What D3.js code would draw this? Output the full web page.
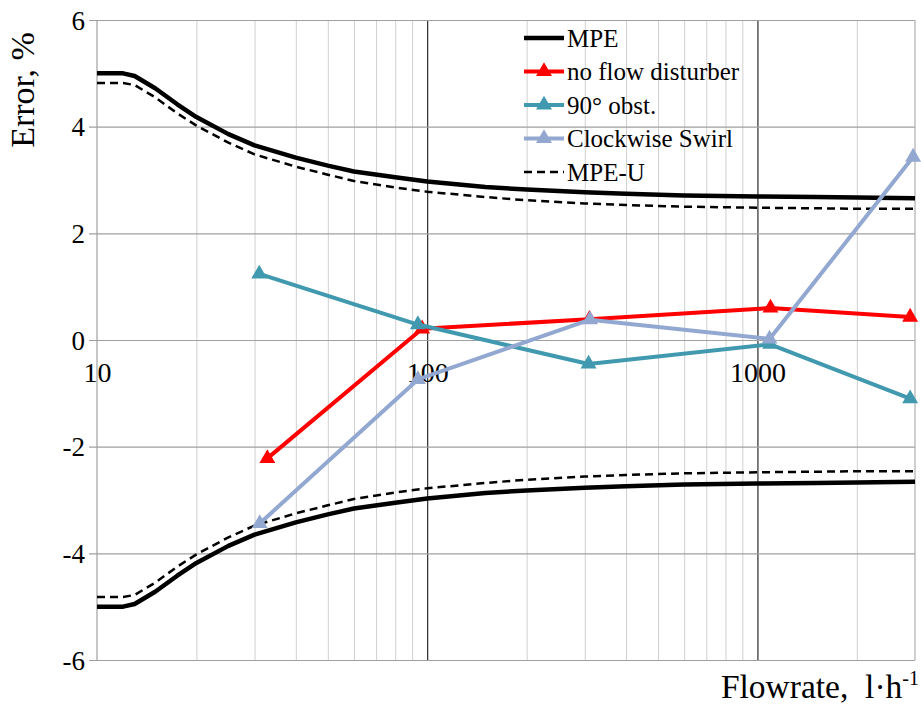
<!DOCTYPE html>
<html>
<head>
<meta charset="utf-8">
<script src="https://cdn.jsdelivr.net/npm/d3@7"></script>
<style>
  body { margin: 0; background: #fff; }
  svg text { font-family: "Liberation Serif", "Times New Roman", serif !important; fill: #000; }
</style>
</head>
<body>
<div id="chart"></div>
<script>
// MPE envelope
const mpeFlow   = [10, 12, 13, 15, 17.5, 20, 25, 30, 40, 50, 60, 80, 100, 150, 200, 300, 400, 600, 1000, 1500, 2000, 3000];
const mpeUpper  = [5.0, 5.0, 4.95, 4.72, 4.42, 4.18, 3.86, 3.65, 3.42, 3.27, 3.16, 3.05, 2.97, 2.87, 2.82, 2.77, 2.74, 2.71, 2.69, 2.68, 2.67, 2.66];
const mpeLower  = [-5.0, -5.0, -4.95, -4.72, -4.42, -4.18, -3.86, -3.65, -3.42, -3.27, -3.16, -3.05, -2.97, -2.87, -2.82, -2.77, -2.74, -2.71, -2.69, -2.68, -2.67, -2.66];
const mpeUUpper = [4.82, 4.82, 4.78, 4.55, 4.25, 4.02, 3.70, 3.48, 3.25, 3.10, 2.98, 2.86, 2.78, 2.68, 2.62, 2.56, 2.53, 2.50, 2.48, 2.47, 2.46, 2.46];
const mpeULower = [-4.82, -4.82, -4.78, -4.55, -4.25, -4.02, -3.70, -3.48, -3.25, -3.10, -2.98, -2.86, -2.78, -2.68, -2.62, -2.56, -2.53, -2.50, -2.48, -2.47, -2.46, -2.46];

// measured series
const noFlowFlow = [32.8, 96.5, 310, 1095, 2900];
const noFlowErr  = [-2.22, 0.21, 0.39, 0.60, 0.43];
const obstFlow   = [31, 93.7, 308, 1093, 2900];
const obstErr    = [1.24, 0.29, -0.45, -0.08, -1.1];
const swirlFlow  = [31.1, 93.7, 311, 1088, 2960];
const swirlErr   = [-3.44, -0.74, 0.38, 0.02, 3.43];

const xTicks = [10, 100, 1000];
const yTicks = [-6, -4, -2, 0, 2, 4, 6];
const legendNames = ["MPE", "no flow disturber", "90° obst.", "Clockwise Swirl", "MPE-U"];

const FONT = "'Liberation Serif', 'Times New Roman', serif";
const W = 921, H = 705,
    margin = ({ top: 20, right: 6, bottom: 45, left: 97 });

const svg = d3.select("#chart")
  .append("svg")
  .attr("width", W)
  .attr("height", H)
  .attr("font-family", FONT);

let x = d3.scaleLog()
  .domain([10, 3000])
  .range([margin.left, W - margin.right]);

let y = d3.scaleLinear()
  .domain([-6, 6])
  .range([H - margin.bottom, margin.top]);

// minor vertical grid
let minor = [];
for (let d of [10, 100, 1000]) {
  for (let k = 2; k <= 9; k++) if (k * d < 3000) minor.push(k * d);
}
svg.append("g")
  .attr("transform", `translate(0,${y(-6)})`)
  .call(d3.axisBottom(x).tickValues(minor).tickFormat("").tickSize(-(y(-6) - y(6))))
  .call(g => g.select(".domain").remove())
  .call(g => g.selectAll("line").attr("stroke", "#d0d0d0").attr("stroke-width", 1));

// major vertical lines
svg.append("g")
  .attr("transform", `translate(0,${y(-6)})`)
  .call(d3.axisBottom(x).tickValues([100, 1000]).tickFormat("").tickSize(-(y(-6) - y(6))))
  .call(g => g.select(".domain").remove())
  .call(g => g.selectAll("line").attr("stroke", "#000").attr("stroke-width", 1));

// horizontal grid + y labels
svg.append("g")
  .attr("class", "y-axis")
  .attr("transform", `translate(${margin.left},0)`)
  .call(d3.axisLeft(y).tickValues(yTicks).tickFormat(d => String(d)).tickSize(8))
  .call(g => g.attr("font-family", FONT))
  .call(g => g.select(".domain").remove())
  .call(g => g.selectAll("line").attr("x1", -8).attr("x2", x(3000) - x(10)).attr("stroke", "#a0a0a0").attr("stroke-width", 1.2))
  .call(g => g.selectAll("text").attr("font-size", 27).attr("x", -12).attr("dy", "0.34em"));

// left and right frame
svg.append("line")
  .attr("x1", x(10)).attr("x2", x(10)).attr("y1", y(6)).attr("y2", y(-6))
  .attr("stroke", "#a0a0a0").attr("stroke-width", 1.2);
svg.append("line")
  .attr("x1", x(3000)).attr("x2", x(3000)).attr("y1", y(6)).attr("y2", y(-6))
  .attr("stroke", "#b0b0b0").attr("stroke-width", 1.2);

// x labels on zero line
svg.append("g")
  .attr("transform", `translate(0,${y(0)})`)
  .call(d3.axisBottom(x).tickValues(xTicks).tickFormat(d => String(d)).tickSize(0).tickPadding(22))
  .call(g => g.attr("font-family", FONT))
  .call(g => g.select(".domain").remove())
  .call(g => g.selectAll("text").attr("font-size", 28));

// MPE curves
const zip = (a, b) => a.map((v, i) => [v, b[i]]);
const line = d3.line().x(d => x(d[0])).y(d => y(d[1]));

for (let s of [mpeUpper, mpeLower]) {
  svg.append("path")
    .datum(zip(mpeFlow, s))
    .attr("fill", "none").attr("stroke", "#000").attr("stroke-width", 4.5)
    .attr("stroke-linejoin", "round")
    .attr("d", line);
}
for (let s of [mpeUUpper, mpeULower]) {
  svg.append("path")
    .datum(zip(mpeFlow, s))
    .attr("fill", "none").attr("stroke", "#000").attr("stroke-width", 2.5)
    .attr("stroke-dasharray", "8,5")
    .attr("d", line);
}

// measured series with triangles
const series = [
  { flow: noFlowFlow, err: noFlowErr, color: "#ff0000" },
  { flow: obstFlow, err: obstErr, color: "#4099ae" },
  { flow: swirlFlow, err: swirlErr, color: "#92a8d1" }
];
const tri = d3.symbol().type(d3.symbolTriangle).size(110);

for (let s of series) {
  let pts = zip(s.flow, s.err);
  svg.append("path")
    .datum(pts)
    .attr("fill", "none").attr("stroke", s.color).attr("stroke-width", 4)
    .attr("stroke-linejoin", "round")
    .attr("d", line);
  svg.append("g")
    .selectAll("path")
    .data(pts)
    .join("path")
    .attr("transform", d => `translate(${x(d[0])},${y(d[1])})`)
    .attr("d", tri)
    .attr("fill", s.color);
}

// legend
const legend = svg.append("g").attr("transform", "translate(524,38)");
legendNames.forEach((name, i) => {
  let g = legend.append("g").attr("transform", `translate(0,${i * 33.5})`);
  let ln = g.append("line").attr("x1", 0).attr("x2", 40).attr("y1", 0).attr("y2", 0)
    .attr("stroke-width", i === 0 ? 4.5 : (i === 4 ? 2.5 : 4));
  if (i === 0) ln.attr("stroke", "#000");
  else if (i === 4) ln.attr("stroke", "#000").attr("stroke-dasharray", "8,5");
  else {
    ln.attr("stroke", series[i - 1].color);
    g.append("path").attr("transform", "translate(20,0)").attr("d", tri).attr("fill", series[i - 1].color);
  }
  g.append("text")
    .attr("x", 43).attr("y", 0).attr("dy", "0.35em")
    .attr("font-size", 25)
    .text(name);
});

// axis titles
svg.append("text")
  .attr("transform", "translate(34,90) rotate(-90)")
  .attr("text-anchor", "middle")
  .attr("font-size", 34)
  .text("Error, %");

const xt = svg.append("text")
  .attr("x", 919).attr("y", 698)
  .attr("text-anchor", "end")
  .attr("font-size", 33.5)
  .style("white-space", "pre");
xt.append("tspan").text("Flowrate,  l·h");
xt.append("tspan").attr("dy", -13).attr("font-size", 20).text("-1");
</script>
</body>
</html>
